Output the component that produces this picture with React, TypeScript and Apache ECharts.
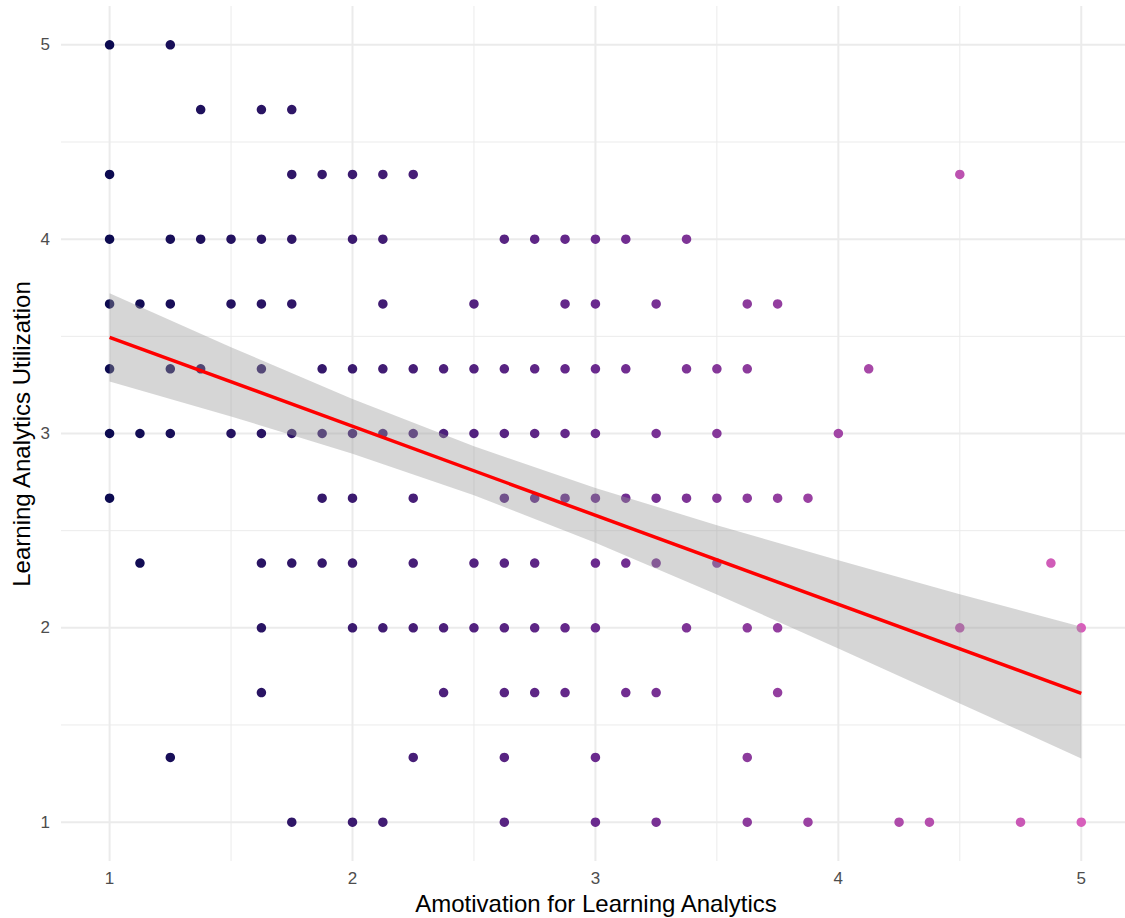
import React, { useEffect, useRef } from "react";
import * as echarts from "echarts";

// Utilization levels (y) and the Amotivation values (x) observed at each level
const utilLevels = [5, 4.667, 4.333, 4, 3.667, 3.333, 3, 2.667, 2.333, 2, 1.667, 1.333, 1];
const amotAtLevel: number[][] = [
  [1, 1.25],
  [1.375, 1.625, 1.75],
  [1, 1.75, 1.875, 2, 2.125, 2.25, 4.5],
  [1, 1.25, 1.375, 1.5, 1.625, 1.75, 2, 2.125, 2.625, 2.75, 2.875, 3, 3.125, 3.375],
  [1, 1.125, 1.25, 1.5, 1.625, 1.75, 2.125, 2.5, 2.875, 3, 3.25, 3.625, 3.75],
  [1, 1.25, 1.375, 1.625, 1.875, 2, 2.125, 2.25, 2.375, 2.5, 2.625, 2.75, 2.875, 3, 3.125, 3.375, 3.5, 3.625, 4.125],
  [1, 1.125, 1.25, 1.5, 1.625, 1.75, 1.875, 2, 2.125, 2.25, 2.375, 2.5, 2.625, 2.75, 2.875, 3, 3.25, 3.5, 4],
  [1, 1.875, 2, 2.25, 2.625, 2.75, 2.875, 3, 3.125, 3.25, 3.375, 3.5, 3.625, 3.75, 3.875],
  [1.125, 1.625, 1.75, 1.875, 2, 2.25, 2.5, 2.625, 2.75, 3, 3.125, 3.25, 3.5, 4.875],
  [1.625, 2, 2.125, 2.25, 2.375, 2.5, 2.625, 2.75, 2.875, 3, 3.375, 3.625, 3.75, 4.5, 5],
  [1.625, 2.375, 2.625, 2.75, 2.875, 3.125, 3.25, 3.75],
  [1.25, 2.25, 2.625, 3, 3.625],
  [1.75, 2, 2.125, 2.625, 3, 3.25, 3.625, 3.875, 4.25, 4.375, 4.75, 5],
];

// Fitted line and confidence band
const fitX = [1, 5];
const fitY = [3.495, 1.663];
const bandX = [1, 1.5, 2, 2.5, 3, 3.5, 4, 4.5, 5];
const bandUpper = [3.722, 3.444, 3.178, 2.934, 2.72, 2.528, 2.348, 2.173, 2.006];
const bandLower = [3.267, 3.088, 2.896, 2.682, 2.438, 2.172, 1.894, 1.611, 1.328];

// Axis ticks and grid lines
const majorTicks = [1, 2, 3, 4, 5];
const minorTicks = [1.5, 2.5, 3.5, 4.5];

const FONT = "'Liberation Sans', Arial, sans-serif";

export default function App() {
  const ref = useRef<HTMLDivElement>(null);

  useEffect(() => {
    if (!ref.current) return;
    const chart = echarts.init(ref.current, undefined, { renderer: "svg" });

    const points: number[][] = [];
    utilLevels.forEach((y, i) => {
      amotAtLevel[i].forEach((x) => points.push([x, y]));
    });

    const X_MIN = 0.8, X_MAX = 5.18, Y_MIN = 0.8, Y_MAX = 5.2;

    const labelStyle = {
      customValues: majorTicks,
      color: "#4d4d4d",
      fontSize: 17,
      fontFamily: FONT,
    };

    chart.setOption({
      animation: false,
      backgroundColor: "#ffffff",
      textStyle: { fontFamily: FONT },
      grid: { left: 61, top: 6, width: 1064, height: 855, containLabel: false },
      xAxis: {
        type: "value",
        min: X_MIN,
        max: X_MAX,
        axisLine: { show: false },
        axisTick: { show: false },
        splitLine: { show: false },
        axisLabel: { ...labelStyle, margin: 9 },
      },
      yAxis: {
        type: "value",
        min: Y_MIN,
        max: Y_MAX,
        axisLine: { show: false },
        axisTick: { show: false },
        splitLine: { show: false },
        axisLabel: { ...labelStyle, margin: 11 },
      },
      visualMap: {
        show: false,
        type: "continuous",
        seriesIndex: 1,
        dimension: 0,
        min: 1,
        max: 5,
        inRange: { color: ["#0c0a50", "#6a2a8e", "#d75fbb"] },
      },
      graphic: [
        {
          type: "text",
          x: 596,
          y: 903,
          style: {
            text: "Amotivation for Learning Analytics",
            fontSize: 24,
            fontFamily: FONT,
            fill: "#000000",
            align: "center",
            verticalAlign: "middle",
          },
        },
        {
          type: "text",
          x: 21,
          y: 434,
          rotation: Math.PI / 2,
          style: {
            text: "Learning Analytics Utilization",
            fontSize: 24,
            fontFamily: FONT,
            fill: "#000000",
            align: "center",
            verticalAlign: "middle",
          },
        },
      ],
      series: [
        {
          type: "custom",
          data: [[1, 1]],
          z: 0,
          silent: true,
          clip: true,
          renderItem: (params: any, api: any) => {
            const children: any[] = [];
            const add = (v: number, vertical: boolean, w: number) => {
              const a = vertical ? api.coord([v, Y_MIN]) : api.coord([X_MIN, v]);
              const b = vertical ? api.coord([v, Y_MAX]) : api.coord([X_MAX, v]);
              children.push({
                type: "line",
                shape: { x1: a[0], y1: a[1], x2: b[0], y2: b[1] },
                style: { stroke: "#ebebeb", lineWidth: w },
              });
            };
            minorTicks.forEach((v) => { add(v, true, 1); add(v, false, 1); });
            majorTicks.forEach((v) => { add(v, true, 2); add(v, false, 2); });
            return { type: "group", children };
          },
        },
        {
          type: "scatter",
          data: points,
          symbolSize: 9.5,
          itemStyle: { opacity: 1 },
          z: 2,
        },
        {
          type: "custom",
          data: [[bandX[0], bandUpper[0]]],
          z: 3,
          silent: true,
          renderItem: (params: any, api: any) => {
            const pts: number[][] = [];
            for (let i = 0; i < bandX.length; i++) pts.push(api.coord([bandX[i], bandUpper[i]]));
            for (let i = bandX.length - 1; i >= 0; i--) pts.push(api.coord([bandX[i], bandLower[i]]));
            return {
              type: "polygon",
              shape: { points: pts },
              style: { fill: "rgba(153,153,153,0.4)", stroke: "none" },
            };
          },
        },
        {
          type: "line",
          data: fitX.map((x, i) => [x, fitY[i]]),
          symbol: "none",
          lineStyle: { color: "#ff0000", width: 3.5 },
          z: 4,
          silent: true,
        },
      ],
    });

    return () => chart.dispose();
  }, []);

  return (
    <div
      ref={ref}
      style={{ position: "fixed", left: 0, top: 0, width: 1125, height: 918, background: "#fff" }}
    />
  );
}
